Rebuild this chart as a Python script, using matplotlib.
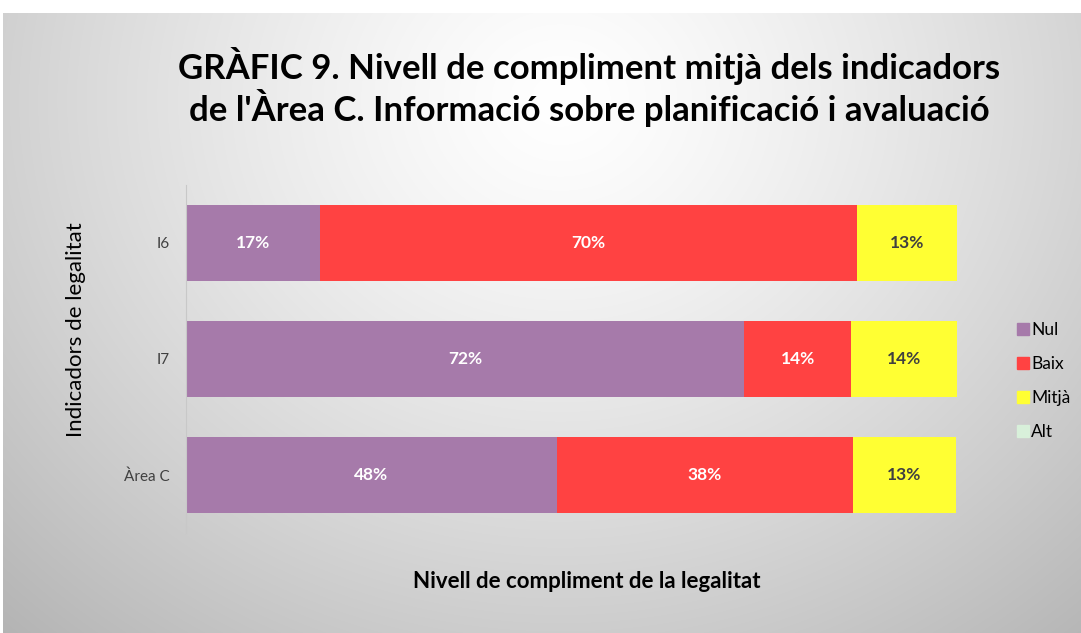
import numpy as np
import matplotlib.pyplot as plt
from matplotlib.lines import Line2D

categories = ["I6", "I7", "Àrea C"]
levels = ["Nul", "Baix", "Mitjà", "Alt"]
nul = [17.4, 72.4, 48.1]
baix = [69.6, 13.9, 38.4]
mitja = [13.0, 13.7, 13.4]
alt = [0.0, 0.0, 0.0]

colors = ["#A67AAA", "#FF4242", "#FFFF33", "#D8F0DA"]
label_colors = ["white", "white", "#404040", "#404040"]

fig = plt.figure(figsize=(10.81, 6.33), dpi=100)

# fons amb degradat gris
bg = fig.add_axes([0, 0, 1, 1], zorder=-10)
h, w = 633, 1081
yy, xx = np.mgrid[0:h, 0:w]
r = np.sqrt(((xx - 560) / 720.0) ** 2 + ((yy - 100) / 640.0) ** 2)
shade = np.clip(1.0 - 0.25 * r ** 1.3, 0, 1)
img = np.dstack([shade, shade, shade])
img[:13, :, :] = 1.0
img[:, :3, :] = 1.0
bg.imshow(img, aspect="auto", interpolation="bilinear")
bg.axis("off")

ax = fig.add_axes([186 / w, 1 - 533 / h, (957 - 186) / w, (533 - 185) / h])
ax.patch.set_alpha(0)

y = np.arange(len(categories))
series = [nul, baix, mitja, alt]
left = np.zeros(len(categories))
for vals, col, lc in zip(series, colors, label_colors):
    vals = np.array(vals)
    ax.barh(y, vals, left=left, height=0.66, color=col)
    for yi, l, v in zip(y, left, vals):
        if v > 0:
            ax.text(l + v / 2, yi, f"{v:.0f}%", ha="center", va="center",
                    color=lc, fontsize=12.5, fontweight="bold", family="Lato")
    left += vals

ax.set_xlim(0, 100)
ax.set_ylim(2.5, -0.5)
ax.set_yticks(y)
ax.set_yticklabels(categories, fontsize=11, color="#404040", family="Lato")
ax.tick_params(axis="y", length=0, pad=12)
ax.set_xticks([])
for s in ["top", "right", "bottom"]:
    ax.spines[s].set_visible(False)
ax.spines["left"].set_color("#C8C8C8")

fig.text(589 / w, 1 - 87 / h, "GRÀFIC 9. Nivell de compliment mitjà dels indicadors\n"
         "de l'Àrea C. Informació sobre planificació i avaluació",
         ha="center", va="center", fontsize=25, fontweight="bold",
         family="Lato", linespacing=1.15, color="black")
fig.text(76 / w, 1 - 330 / h, "Indicadors de legalitat", rotation=90,
         ha="center", va="center", fontsize=16, family="Lato", color="black")
fig.text(587 / w, 1 - 581 / h, "Nivell de compliment de la legalitat",
         ha="center", va="center", fontsize=16, fontweight="bold",
         family="Lato", color="black")

handles = [Line2D([], [], marker="s", linestyle="none", markersize=8,
                  markerfacecolor=c, markeredgecolor=c) for c in colors]
fig.legend(handles, levels, loc="center left", bbox_to_anchor=(1000 / w, 1 - 381 / h),
           frameon=False, handletextpad=0.1, labelspacing=1.05,
           prop={"family": "Lato", "size": 12.5}, handlelength=0.8)

fig.savefig("out.png", dpi=100)
